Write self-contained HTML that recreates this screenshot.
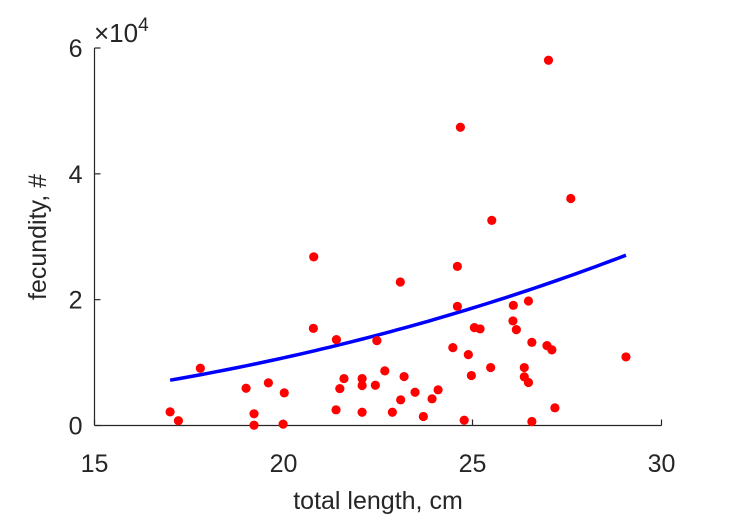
<!DOCTYPE html>
<html><head><meta charset="utf-8"><style>
body{margin:0;background:#fff;}
svg{display:block;font-family:"Liberation Sans",Arial,sans-serif;}
</style></head><body>
<svg id="chart" width="729" height="521" viewBox="0 0 729 521">
<g id="axes"></g>
<g id="curve"></g>
<g id="pts"></g>
<text x="378" y="509" font-size="25" text-anchor="middle" fill="#262626">total length, cm</text>
<text transform="translate(46,237) rotate(-90)" font-size="25" text-anchor="middle" fill="#262626">fecundity, #</text>
<text x="94" y="42" font-size="26" fill="#262626">×10<tspan font-size="19" dy="-11">4</tspan></text>
</svg>
<script>
const lengths = [17.00,17.22,17.80,19.01,19.22,19.22,19.60,20.02,19.99,20.80,20.79,21.40,21.39,21.49,21.60,22.08,22.08,22.08,22.43,22.47,22.68,22.88,23.09,23.10,23.19,23.48,23.70,23.93,24.09,24.48,24.60,24.60,24.78,24.89,24.97,25.05,25.20,25.48,26.08,26.07,26.16,26.48,26.37,26.37,26.48,26.57,26.57,26.97,27.10,27.18,29.06,24.68,27.01,27.60,25.51];
const fecundity = [2170,750,9100,5920,1860,50,6780,5190,210,26800,15440,13650,2490,5870,7460,7460,6350,2110,6400,13490,8680,2110,22810,4080,7780,5290,1430,4240,5670,12380,25290,18940,840,11270,7940,15560,15350,9210,19100,16620,15240,19790,9210,7730,6830,13220,630,12700,12020,2810,10900,47400,58050,36080,32600];
const xTicks = [15,20,25,30];
const yTicks = [0,2,4,6];
const fitRange = [17.0,29.06];
const fitCoef = [7200,2.47]; // y = a*(x/17)^b
const NS="http://www.w3.org/2000/svg";
const X0=94.5,X1=661.5,Y0=425.5,Y1=48;
const xs=v=>X0+(v-15)/15*(X1-X0);
const ys=v=>Y0-v/60000*(Y0-Y1);
function mk(t,a,p){const e=document.createElementNS(NS,t);for(const k in a)e.setAttribute(k,a[k]);p.appendChild(e);return e;}
const ax=document.getElementById('axes');
const yl=mk('line',{x1:X0,y1:Y0,x2:X0,y2:Y1,stroke:'#262626','stroke-width':1.2},ax);


const xl=mk('line',{x1:X0,y1:Y0,x2:X1,y2:Y0,stroke:'#262626','stroke-width':1.2},ax);


xTicks.forEach(t=>{const x=xs(t);
 const tk=mk('line',{x1:x,y1:Y0,x2:x,y2:Y0-6,stroke:'#262626','stroke-width':1.2},ax);
 
 
 const lb=mk('text',{x:x,y:472,'font-size':25,'text-anchor':'middle',fill:'#262626'},ax);lb.textContent=t;
 
 
});
yTicks.forEach(t=>{const y=ys(t*10000);
 const tk=mk('line',{x1:X0,y1:y,x2:X0+6,y2:y,stroke:'#262626','stroke-width':1.2},ax);
 
 
 const lb=mk('text',{x:X0-12,y:y+9,'font-size':25,'text-anchor':'end',fill:'#262626'},ax);lb.textContent=t;
 
 
});
let d='';
for(let i=0;i<=60;i++){const x=fitRange[0]+(fitRange[1]-fitRange[0])*i/60;const y=fitCoef[0]*Math.pow(x/17,fitCoef[1]);d+=(i?'L':'M')+xs(x).toFixed(2)+' '+ys(y).toFixed(2);}
const fc=mk('path',{d:d,fill:'none',stroke:'#0000ff','stroke-width':3.5},document.getElementById('curve'));


const pg=document.getElementById('pts');
lengths.forEach((v,i)=>{const c=mk('circle',{cx:xs(v),cy:ys(fecundity[i]),r:4.6,fill:'#ff0000'},pg);
 
 
});
</script>
</body></html>
